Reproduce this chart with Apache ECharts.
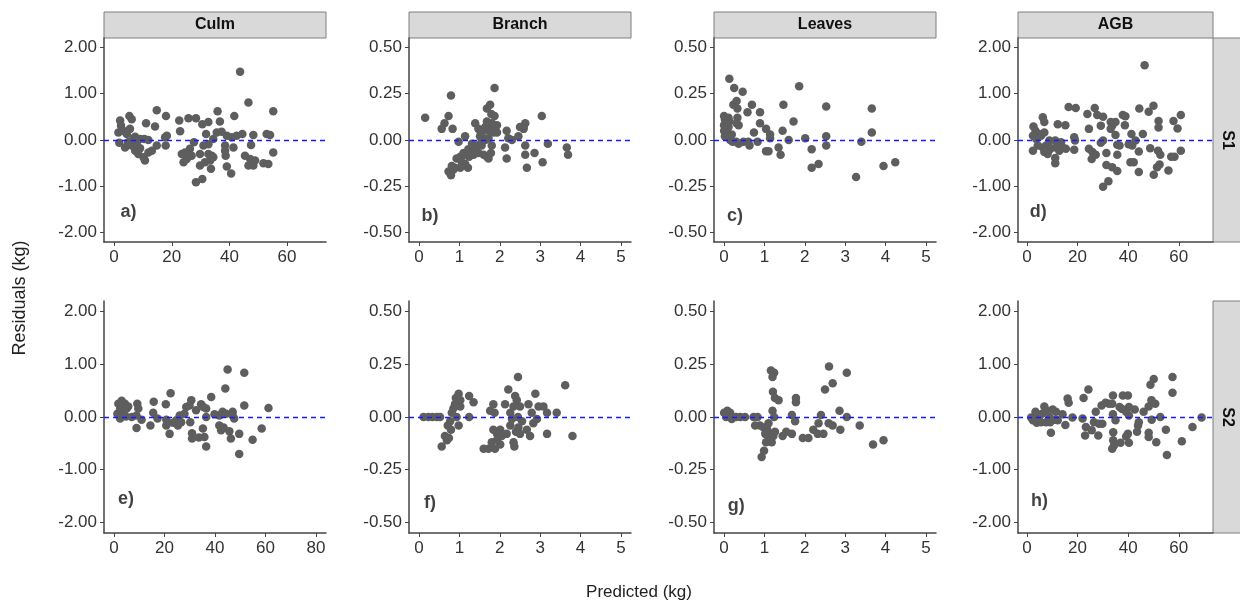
<!DOCTYPE html>
<html>
<head>
<meta charset="utf-8">
<script src="https://cdn.jsdelivr.net/npm/echarts@6/dist/echarts.min.js"></script>
<style>
  html, body { margin: 0; padding: 0; background: #fff; }
  #chart { width: 1240px; height: 607px; }
</style>
</head>
<body>
<div id="chart"></div>
<script>
// facet labels
const components = ['Culm', 'Branch', 'Leaves', 'AGB'];
const sites = ['S1', 'S2'];
const panelTags = ['a)', 'b)', 'c)', 'd)', 'e)', 'f)', 'g)', 'h)'];

// tick values
const kgTicksWide = [0, 20, 40, 60];
const kgTicksCulmS2 = [0, 20, 40, 60, 80];
const kgTicksSmall = [0, 1, 2, 3, 4, 5];
const residTicksWide = [-2, -1, 0, 1, 2];
const residTicksSmall = [-0.5, -0.25, 0, 0.25, 0.5];

// [predicted, residual]
const culmS1 = [[43.7,1.47],[46.6,0.81],[55.2,0.62],[14.8,0.64],[18.0,0.52],[35.9,0.62],[41.7,0.52],[36.7,0.40],
  [22.6,0.42],[25.8,0.47],[28.4,0.47],[32.7,0.39],[30.6,0.34],[11.1,0.36],[14.2,0.29],[5.3,0.52],[6.1,0.45],
  [2.1,0.42],[2.4,0.31],[3.2,0.20],[1.5,0.16],[5.5,0.24],[4.4,0.13],[22.9,0.19],[7.3,0.07],[9.0,0.02],[10.5,0.02],
  [17.7,0.06],[17.9,-0.12],[14.8,-0.12],[13.1,-0.23],[11.9,-0.27],[10.2,-0.37],[10.7,-0.44],[8.4,-0.30],[7.3,-0.23],
  [6.1,-0.12],[4.9,-0.05],[3.8,-0.16],[1.8,-0.06],[7.9,-0.11],[9.0,-0.18],[29.8,-0.30],[31.9,0.13],[35.6,0.16],
  [37.3,0.18],[39.1,0.09],[40.8,0.06],[34.4,0.02],[32.7,-0.09],[31.0,-0.12],[27.7,-0.05],[26.3,-0.19],[24.6,-0.27],
  [23.5,-0.30],[24.1,-0.48],[25.2,-0.41],[26.9,-0.34],[29.8,-0.55],[31.5,-0.48],[33.3,-0.44],[32.7,-0.30],[33.9,-0.34],
  [34.4,-0.37],[33.6,-0.62],[28.4,-0.91],[30.6,-0.84],[38.7,-0.34],[38.5,-0.12],[38.5,-0.23],[39.1,-0.57],[40.6,-0.72],
  [41.4,-0.16],[42.5,0.09],[44.5,0.13],[48.3,0.11],[45.4,-0.34],[47.2,-0.41],[46.6,-0.55],[48.3,-0.55],[47.5,-0.11],
  [48.9,-0.44],[51.8,-0.50],[53.5,-0.52],[52.9,0.13],[54.1,0.11],[55.2,-0.27],[11.9,0.0],[6.7,0.04],[18.3,0.09]];

const branchS1 = [[0.15,0.12],[0.79,0.24],[0.73,0.13],[0.63,0.09],[0.56,0.06],[0.83,0.06],[1.14,0.02],[0.98,-0.01],
  [1.87,0.28],[1.76,0.19],[1.68,0.17],[1.79,0.14],[1.87,0.13],[1.93,0.08],[1.80,0.09],[1.68,0.10],[1.84,0.04],
  [1.93,0.04],[1.39,0.09],[1.47,0.06],[1.55,0.04],[1.64,0.07],[1.72,0.05],[1.51,0.02],[1.60,0.01],[1.64,0.00],
  [1.55,-0.03],[1.43,-0.03],[1.31,-0.02],[1.22,-0.05],[1.35,-0.06],[1.47,-0.07],[1.60,-0.08],[1.68,-0.09],[1.72,-0.10],
  [1.78,-0.07],[1.80,-0.03],[1.35,-0.08],[1.24,-0.09],[1.14,-0.08],[1.02,-0.09],[0.93,-0.10],[1.06,-0.12],[1.14,-0.13],
  [1.21,-0.15],[1.02,-0.15],[0.89,-0.15],[0.81,-0.14],[0.85,-0.16],[0.73,-0.17],[0.79,-0.19],[2.17,0.05],[2.21,0.01],
  [2.30,0.00],[2.13,-0.04],[2.17,-0.10],[2.46,0.02],[2.50,0.07],[2.59,0.07],[2.63,0.09],[2.59,0.06],[2.63,-0.03],
  [2.63,-0.08],[2.67,-0.15],[2.86,-0.07],[3.04,0.13],[3.06,-0.12],[3.19,-0.02],[3.66,-0.04],[3.69,-0.08],[1.43,-0.06],
  [1.55,-0.01],[1.31,-0.07],[1.10,-0.07],[1.72,0.01],[1.84,0.08]];

const leavesS1 = [[0.13,0.33],[0.25,0.28],[0.46,0.26],[0.23,0.19],[0.31,0.21],[0.33,0.17],[0.33,0.12],[0.31,0.09],
  [0.36,0.08],[0.58,0.15],[0.69,0.19],[0.89,0.15],[0.89,0.09],[0.74,0.04],[0.83,-0.01],[0.63,-0.03],[0.60,-0.01],
  [0.48,-0.01],[0.36,-0.02],[0.21,-0.01],[0.15,0.01],[0.02,0.02],[0.00,0.05],[0.00,0.08],[0.02,0.11],[0.00,0.13],
  [0.11,0.12],[0.11,0.07],[0.07,0.04],[0.13,0.10],[0.19,0.03],[0.05,0.09],[1.04,0.06],[1.14,0.03],[1.14,0.01],
  [1.10,-0.06],[1.04,-0.06],[1.35,-0.04],[1.40,-0.08],[1.47,0.19],[1.45,0.05],[1.60,0.00],[1.72,0.10],[1.86,0.29],
  [2.01,0.01],[2.17,-0.05],[2.17,-0.15],[2.34,-0.13],[2.53,0.18],[2.53,0.02],[2.53,-0.03],[3.27,-0.20],[3.40,-0.01],
  [3.66,0.17],[3.66,0.04],[3.95,-0.14],[4.24,-0.12],[0.15,0.00],[0.30,-0.01]];

const agbS1 = [[46.5,1.61],[16.5,0.71],[19.3,0.69],[26.8,0.69],[27.8,0.54],[30.1,0.50],[23.9,0.56],[48.1,0.61],
  [44.4,0.68],[50.0,0.74],[37.9,0.54],[38.9,0.51],[38.7,0.32],[33.1,0.39],[35.0,0.39],[33.7,0.31],[29.2,0.31],
  [24.5,0.24],[33.1,0.24],[52.0,0.41],[52.0,0.27],[57.9,0.41],[60.8,0.54],[59.5,0.25],[45.8,0.13],[41.3,0.13],
  [15.2,0.32],[12.2,0.34],[6.3,0.49],[6.9,0.39],[2.6,0.29],[3.4,0.20],[4.7,0.13],[2.4,0.09],[3.7,0.02],[5.6,0.09],
  [6.9,0.16],[8.9,-0.01],[11.2,-0.01],[13.5,-0.05],[18.7,0.06],[19.0,-0.01],[2.4,-0.23],[4.3,-0.12],[6.3,-0.16],
  [7.6,-0.12],[8.6,-0.23],[6.9,-0.26],[9.5,-0.18],[11.5,-0.16],[12.8,-0.23],[14.1,-0.16],[15.4,-0.19],[11.2,-0.39],
  [11.2,-0.50],[18.7,-0.21],[8.2,-0.30],[24.5,-0.19],[25.6,-0.41],[25.9,-0.26],[27.2,-0.32],[30.1,-0.01],[29.2,-0.06],
  [31.4,-0.28],[31.4,-0.54],[30.1,-1.01],[32.2,-0.89],[33.7,-0.59],[35.7,-0.67],[35.7,-0.32],[35.0,0.11],[35.7,-0.10],
  [36.6,-0.12],[40.2,-0.09],[41.6,-0.12],[40.9,-0.48],[42.2,-0.48],[42.9,-0.01],[44.2,-0.25],[44.2,-0.69],[48.7,-0.18],
  [50.1,-0.75],[51.4,-0.59],[52.4,-0.53],[51.8,-0.23],[52.7,-0.32],[55.9,-0.66],[57.0,-0.36],[58.3,-0.36],[60.8,-0.23]];

const culmS2 = [[45.0,0.90],[51.6,0.84],[44.1,0.54],[38.5,0.38],[22.4,0.45],[15.7,0.29],[20.5,0.24],[30.6,0.32],
  [28.6,0.19],[29.9,0.22],[34.5,0.24],[35.4,0.19],[36.5,0.16],[32.5,0.13],[51.6,0.22],[61.2,0.17],[1.7,0.25],[3.0,0.31],
  [4.3,0.25],[5.6,0.20],[2.4,0.16],[3.7,0.10],[1.3,0.06],[5.0,0.16],[9.2,0.25],[9.6,0.16],[2.4,-0.03],[4.7,0.01],
  [7.0,0.00],[8.9,0.03],[10.9,-0.05],[8.9,-0.21],[14.4,-0.16],[15.5,0.08],[17.2,-0.03],[20.7,-0.05],[20.7,-0.16],
  [22.0,-0.32],[23.4,-0.11],[24.7,-0.06],[26.0,0.03],[25.3,-0.16],[26.6,-0.10],[27.9,0.06],[30.2,-0.10],[30.9,-0.31],
  [30.9,-0.41],[33.6,-0.39],[35.2,-0.22],[35.8,-0.38],[36.5,-0.56],[41.7,0.03],[43.0,0.10],[44.4,0.06],[47.0,0.10],
  [47.6,-0.03],[41.7,-0.16],[43.4,-0.20],[42.4,-0.25],[45.7,-0.27],[46.3,-0.41],[49.6,-0.32],[49.6,-0.70],[54.9,-0.43],
  [58.5,-0.22],[47.0,0.03],[36.5,0.00],[39.8,0.05]];

const branchS2 = [[0.11,0.0],[0.23,0.0],[0.33,0.0],[0.44,0.0],[0.52,0.0],[0.56,-0.14],[0.64,-0.09],[0.69,-0.11],
  [0.74,-0.10],[0.71,-0.04],[0.79,-0.06],[0.77,-0.02],[0.81,0.02],[0.85,0.04],[0.89,0.06],[0.91,0.09],[0.98,0.11],
  [1.02,0.08],[1.02,0.05],[0.93,0.0],[0.98,-0.04],[1.24,0.0],[1.24,0.10],[1.35,0.07],[1.76,0.03],[1.84,0.06],
  [1.87,0.02],[1.60,-0.15],[1.72,-0.15],[1.88,-0.15],[1.80,-0.12],[1.93,-0.11],[2.01,-0.13],[1.84,-0.06],[1.93,-0.08],
  [2.05,-0.09],[2.01,-0.06],[2.13,0.06],[2.21,0.13],[2.17,-0.08],[2.26,-0.04],[2.26,0.02],[2.34,0.05],[2.38,0.10],
  [2.42,0.08],[2.45,0.19],[2.30,-0.01],[2.34,-0.12],[2.36,-0.14],[2.40,-0.07],[2.45,0.0],[2.50,0.05],[2.55,-0.02],
  [2.46,-0.05],[2.50,-0.08],[2.67,-0.06],[2.71,0.06],[2.75,-0.09],[2.79,0.02],[2.83,-0.03],[2.88,0.11],[2.92,-0.01],
  [2.96,0.05],[3.08,0.05],[3.17,0.02],[3.17,-0.08],[3.41,0.02],[3.62,0.15],[3.80,-0.09]];

const leavesS2 = [[0.0,0.02],[0.08,0.03],[0.15,0.02],[0.05,0.0],[0.19,-0.01],[0.30,0.0],[0.40,0.0],[0.52,0.0],
  [0.73,0.0],[0.83,0.0],[0.77,-0.04],[0.89,-0.04],[0.98,-0.05],[1.02,-0.08],[0.93,-0.19],[0.99,-0.16],[1.04,-0.12],
  [1.07,-0.06],[1.10,-0.03],[1.14,-0.09],[1.18,-0.12],[1.22,-0.09],[1.26,-0.07],[1.12,-0.11],[1.16,0.22],[1.24,0.21],
  [1.20,0.19],[1.21,0.12],[1.26,0.09],[1.35,0.08],[1.20,0.03],[1.24,0.0],[1.45,-0.09],[1.54,-0.07],[1.68,-0.08],
  [1.68,0.01],[1.76,-0.02],[1.78,0.09],[1.78,0.07],[1.95,-0.10],[2.09,-0.10],[2.21,-0.06],[2.34,-0.03],[2.32,-0.08],
  [2.40,0.01],[2.46,-0.08],[2.50,0.13],[2.59,-0.03],[2.69,-0.04],[2.69,0.16],[2.60,0.24],[2.86,0.03],[2.88,-0.06],
  [3.04,0.0],[3.04,0.21],[3.36,-0.04],[3.69,-0.13],[3.95,-0.11]];

const agbS2 = [[50.1,0.72],[48.8,0.61],[57.5,0.76],[57.5,0.46],[24.3,0.52],[22.4,0.36],[16.1,0.35],[16.5,0.27],
  [34.0,0.41],[37.9,0.41],[39.9,0.41],[49.2,0.32],[48.1,0.20],[50.7,0.25],[29.5,0.22],[31.1,0.27],[32.4,0.25],
  [33.7,0.25],[36.6,0.19],[37.6,0.15],[40.3,0.19],[42.6,0.14],[39.2,0.10],[46.1,0.10],[27.2,0.10],[34.0,0.05],
  [40.3,0.03],[69.0,-0.01],[65.4,-0.19],[61.2,-0.46],[55.3,-0.72],[54.9,-0.24],[51.1,-0.48],[48.1,-0.38],[48.1,-0.30],
  [49.3,-0.05],[52.7,0.0],[44.2,-0.10],[43.9,-0.16],[43.5,-0.28],[40.3,-0.49],[39.9,-0.32],[39.2,-0.37],[37.0,-0.49],
  [35.0,-0.06],[34.1,-0.29],[34.1,-0.44],[33.7,-0.60],[34.4,-0.54],[29.8,-0.13],[28.5,-0.13],[26.5,-0.10],[28.2,-0.35],
  [25.6,-0.25],[23.3,-0.19],[23.0,-0.35],[22.0,-0.03],[18.0,-0.01],[15.2,-0.15],[14.1,0.05],[11.5,0.10],[10.2,0.14],
  [12.2,-0.06],[9.2,-0.10],[9.5,-0.30],[6.9,0.20],[7.6,0.13],[6.0,0.06],[4.7,0.0],[3.4,0.10],[2.4,-0.06],[1.7,-0.01],
  [3.9,-0.11],[5.6,-0.10],[7.6,-0.10],[8.9,0.0],[11.1,-0.05]];

// where each panel tag sits, in data units
const tagPos = [[5, -1.55], [0.27, -0.41], [0.27, -0.41], [4.5, -1.55],
                [4.7, -1.56], [0.27, -0.41], [0.3, -0.42], [5, -1.59]];

const panelData = [culmS1, branchS1, leavesS1, agbS1, culmS2, branchS2, leavesS2, agbS2];
const xRange = [[-3.5, 73.5], [-0.25, 5.25], [-0.25, 5.25], [-3.5, 73.5],
                [-4, 84], [-0.25, 5.25], [-0.25, 5.25], [-3.5, 73.5]];
const xTicks = [kgTicksWide, kgTicksSmall, kgTicksSmall, kgTicksWide,
                kgTicksCulmS2, kgTicksSmall, kgTicksSmall, kgTicksWide];

// layout
const colLeft = [104, 409, 714, 1018];
const colWidth = [222, 222, 222, 195];
const rowTop = [38, 301];
const rowHeight = [204, 232];
const font = "'Liberation Sans', Arial, sans-serif";
const axisColor = '#444';

const grids = [], xAxes = [], yAxes = [], series = [];
for (let i = 0; i < 8; i++) {
  const r = Math.floor(i / 4), c = i % 4;
  const wide = (c === 0 || c === 3);
  const yR = wide ? [-2.2, 2.2] : [-0.55, 0.55];
  const yT = wide ? residTicksWide : residTicksSmall;
  grids.push({ left: colLeft[c], top: rowTop[r], width: colWidth[c], height: rowHeight[r] });
  xAxes.push({
    type: 'value', gridIndex: i, min: xRange[i][0], max: xRange[i][1],
    axisLine: { show: true, onZero: false, lineStyle: { color: axisColor, width: 1.5 } },
    axisTick: { show: true, length: 4, customValues: xTicks[i], lineStyle: { color: axisColor } },
    axisLabel: { customValues: xTicks[i], margin: 7, color: '#333', fontSize: 17, fontFamily: font },
    splitLine: { show: false }
  });
  yAxes.push({
    type: 'value', gridIndex: i, min: yR[0], max: yR[1],
    axisLine: { show: true, onZero: false, lineStyle: { color: axisColor, width: 1.5 } },
    axisTick: { show: true, length: 4, customValues: yT, lineStyle: { color: axisColor } },
    axisLabel: { customValues: yT, margin: 7, color: '#333', fontSize: 17, fontFamily: font,
      formatter: v => v.toFixed(2) },
    splitLine: { show: false }
  });
  series.push({
    type: 'scatter', xAxisIndex: i, yAxisIndex: i, data: panelData[i],
    symbolSize: 8.5, itemStyle: { color: '#5e5e5e', opacity: 1 },
    markLine: {
      silent: true, symbol: 'none', label: { show: false },
      lineStyle: { color: '#1a1aff', type: [5, 4], width: 1.3 },
      data: [{ yAxis: 0 }]
    }
  });
  series.push({
    type: 'scatter', xAxisIndex: i, yAxisIndex: i, silent: true,
    data: [[tagPos[i][0], tagPos[i][1], panelTags[i]]],
    symbolSize: 1, itemStyle: { color: 'transparent' },
    label: { show: true, position: 'inside', formatter: p => p.data[2],
      color: '#111', fontSize: 18, fontWeight: 'bold', fontFamily: font }
  });
}

const graphics = [];
for (let c = 0; c < 4; c++) {
  graphics.push({ type: 'rect', shape: { x: colLeft[c], y: 12, width: colWidth[c], height: 26 },
    style: { fill: '#d9d9d9', stroke: '#7f7f7f', lineWidth: 1 } });
  graphics.push({ type: 'text', x: colLeft[c] + colWidth[c] / 2, y: 25,
    style: { text: components[c], fill: '#111', font: 'bold 16px ' + font, align: 'center', verticalAlign: 'middle' } });
}
const stripX = colLeft[3] + colWidth[3];
for (let r = 0; r < 2; r++) {
  graphics.push({ type: 'rect', shape: { x: stripX, y: rowTop[r], width: 40, height: rowHeight[r] },
    style: { fill: '#d9d9d9', stroke: '#7f7f7f', lineWidth: 1 } });
  graphics.push({ type: 'text', x: stripX + 14, y: rowTop[r] + rowHeight[r] / 2, rotation: -Math.PI / 2,
    style: { text: sites[r], fill: '#111', font: 'bold 16px ' + font, align: 'center', verticalAlign: 'middle' } });
}
graphics.push({ type: 'text', x: 20, y: 298, rotation: Math.PI / 2,
  style: { text: 'Residuals (kg)', fill: '#222', font: '18px ' + font, align: 'center', verticalAlign: 'middle' } });
graphics.push({ type: 'text', x: 639, y: 592,
  style: { text: 'Predicted (kg)', fill: '#222', font: '17px ' + font, align: 'center', verticalAlign: 'middle' } });

const chart = echarts.init(document.getElementById('chart'));
chart.setOption({
  animation: false,
  backgroundColor: '#fff',
  grid: grids, xAxis: xAxes, yAxis: yAxes, series: series,
  graphic: graphics
});
</script>
</body>
</html>
